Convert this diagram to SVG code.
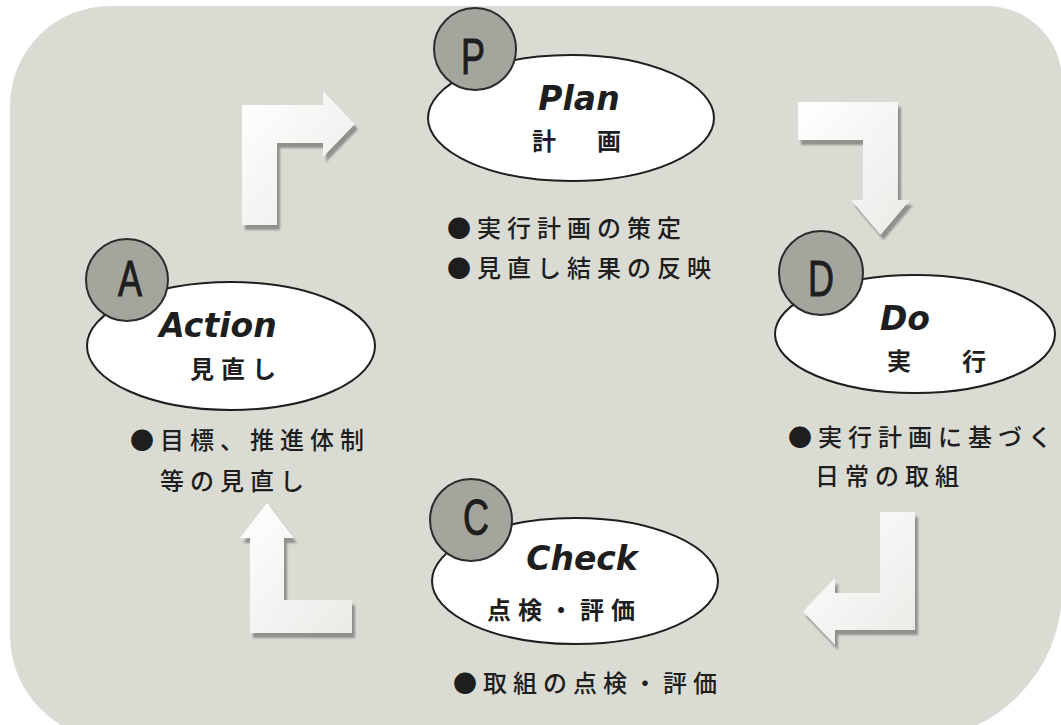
<svg xmlns="http://www.w3.org/2000/svg" width="1061" height="725" viewBox="0 0 1061 725">
<style>
.panel{fill:#dadcd4}
.badge{fill:#a4a69d;stroke:#2b2b2b;stroke-width:2}
.oval{fill:#ffffff;stroke:#1e1e1e;stroke-width:2}
.letter{font-family:"Liberation Sans",Arial,sans-serif;font-size:50px;fill:#1e1e1e;stroke:#1e1e1e;stroke-width:1;text-anchor:middle}
.en{font-family:"DejaVu Sans",Verdana,sans-serif;font-size:33px;font-weight:bold;font-style:italic;fill:#1e1e1e;text-anchor:middle}
.jp{font-family:"Noto Sans CJK JP",sans-serif;font-size:24px;font-weight:bold;fill:#1e1e1e}
.note{font-family:"Noto Sans CJK JP",sans-serif;font-size:24px;font-weight:500;fill:#1e1e1e;letter-spacing:6px}
.arrow{fill:url(#arrowGrad)}
.shadow{fill:#8f918a;filter:url(#soft)}
</style>
<defs>
<linearGradient id="arrowGrad" x1="0" y1="0" x2="1" y2="1">
<stop offset="0" stop-color="#ffffff"/>
<stop offset="1" stop-color="#eaebe7"/>
</linearGradient>
<filter id="soft" x="-10%" y="-10%" width="120%" height="120%">
<feGaussianBlur stdDeviation="0.8"/>
</filter>
</defs>
<rect x="0" y="0" width="1061" height="725" fill="#ffffff"/>
<path class="panel" d="M110,6 H987 A75,75 0 0 1 1062,81 V590 A150,150 0 0 1 912,740 H115 A105,105 0 0 1 10,635 V106 A100,100 0 0 1 110,6 Z"/>

<g id="connectors">
<g id="arrow-A-P">
<polygon class="shadow" transform="translate(3,5)" points="242,225 242,105 323,105 323,91 355,124 323,157 323,143 277,143 277,225"/>
<polygon class="arrow" points="242,225 242,105 323,105 323,91 355,124 323,157 323,143 277,143 277,225"/>
</g>
<g id="arrow-P-D">
<polygon class="shadow" transform="translate(3,5)" points="798,102 898,102 898,200 910,200 880.5,235 851,200 863,200 863,140 798,140"/>
<polygon class="arrow" points="798,102 898,102 898,200 910,200 880.5,235 851,200 863,200 863,140 798,140"/>
</g>
<g id="arrow-D-C">
<polygon class="shadow" transform="translate(3,5)" points="880,512 915,512 915,630 835,630 835,645 803,611.5 835,578 835,593 880,593"/>
<polygon class="arrow" points="880,512 915,512 915,630 835,630 835,645 803,611.5 835,578 835,593 880,593"/>
</g>
<g id="arrow-C-A">
<polygon class="shadow" transform="translate(3,5)" points="250,633 250,538 240,538 267,503 294,538 284,538 284,600 352,600 352,633"/>
<polygon class="arrow" points="250,633 250,538 240,538 267,503 294,538 284,538 284,600 352,600 352,633"/>
</g>
</g>

<g id="node-plan">
<ellipse class="oval" cx="571" cy="118" rx="143" ry="63"/>
<circle class="badge" cx="475" cy="49" r="41"/>
<text class="letter" transform="translate(473,74) scale(0.72,1)" x="0" y="0">P</text>
<text class="en" x="579" y="110">Plan</text>
<text class="jp" x="532 597" y="150">計画</text>
<text class="note" x="447" y="237">●実行計画の策定</text>
<text class="note" x="447" y="277">●見直し結果の反映</text>
</g>

<g id="node-action">
<ellipse class="oval" cx="231" cy="346" rx="144" ry="64"/>
<circle class="badge" cx="127" cy="280" r="41"/>
<text class="letter" transform="translate(130,296) scale(0.72,1)" x="0" y="0">A</text>
<text class="en" x="218" y="337">Action</text>
<text class="jp" x="190" y="378" letter-spacing="7">見直し</text>
<text class="note" x="130" y="449">●目標、推進体制</text>
<text class="note" x="160" y="490">等の見直し</text>
</g>

<g id="node-do">
<ellipse class="oval" cx="915" cy="334" rx="140" ry="59"/>
<circle class="badge" cx="821" cy="273" r="42"/>
<text class="letter" transform="translate(821,296) scale(0.72,1)" x="0" y="0">D</text>
<text class="en" x="905" y="330">Do</text>
<text class="jp" x="887 962" y="370">実行</text>
<text class="note" x="788" y="446">●実行計画に基づく</text>
<text class="note" x="815" y="485">日常の取組</text>
</g>

<g id="node-check">
<ellipse class="oval" cx="575" cy="581" rx="143" ry="63"/>
<circle class="badge" cx="471" cy="520" r="41"/>
<text class="letter" transform="translate(476,535) scale(0.72,1)" x="0" y="0">C</text>
<text class="en" x="582" y="570">Check</text>
<text class="jp" x="487" y="619" letter-spacing="7">点検・評価</text>
<text class="note" x="453" y="692">●取組の点検・評価</text>
</g>
</svg>
